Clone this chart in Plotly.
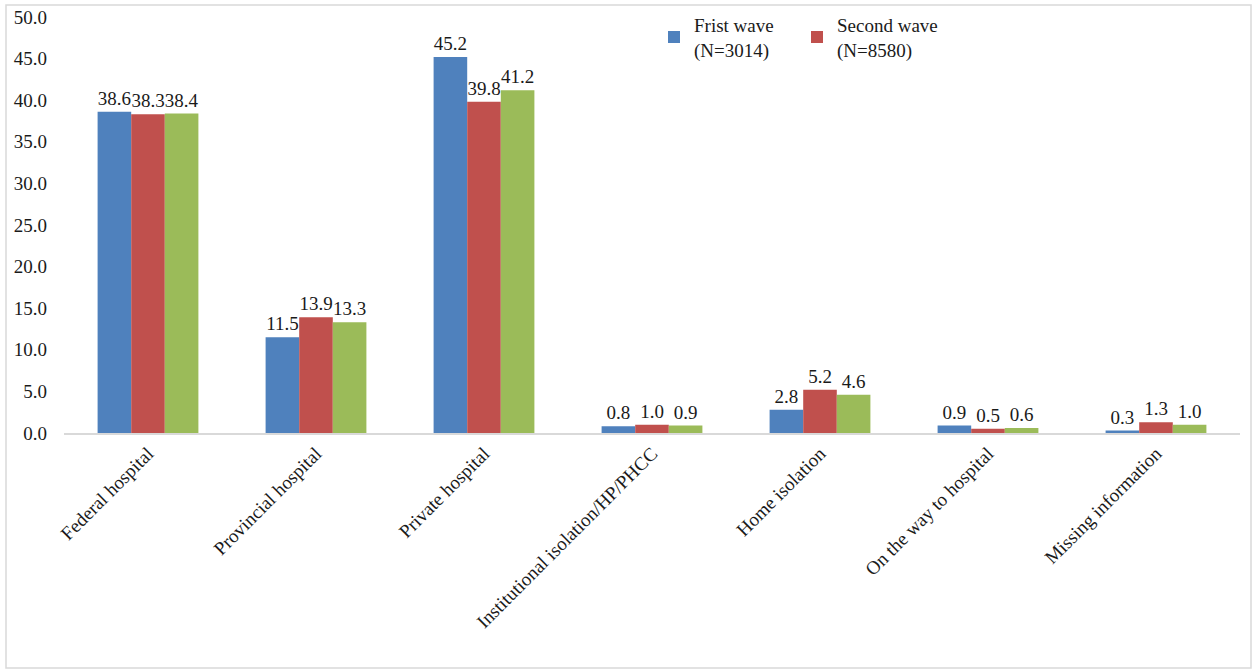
import plotly.graph_objects as go

categories = ["Federal hospital", "Provincial hospital", "Private hospital",
              "Institutional isolation/HP/PHCC", "Home isolation",
              "On the way to hospital", "Missing information"]
first_wave = [38.6, 11.5, 45.2, 0.8, 2.8, 0.9, 0.3]
second_wave = [38.3, 13.9, 39.8, 1.0, 5.2, 0.5, 1.3]
total = [38.4, 13.3, 41.2, 0.9, 4.6, 0.6, 1.0]
series_names = ["Frist wave<br>(N=3014)", "Second wave<br>(N=8580)", "Total"]
y_ticks = [0, 5, 10, 15, 20, 25, 30, 35, 40, 45, 50]

FONT = "Liberation Serif"
TXT = "#1a1a1a"
colors = ["#4F81BD", "#C0504D", "#9BBB59"]

fig = go.Figure()
for name, vals, col, show in zip(series_names, [first_wave, second_wave, total], colors, [True, True, False]):
    fig.add_trace(go.Bar(
        x=categories, y=vals, name=name, marker=dict(color=col, line=dict(width=0)),
        text=[f"{v:.1f}" for v in vals], textposition="outside", cliponaxis=False,
        constraintext="none",
        textfont=dict(family=FONT, size=19, color=TXT), showlegend=show,
    ))

W, H = 1253, 669
L, R, T, B = 64, 13, 17, 236
pw = W - L - R
ph = H - T - B

fig.update_layout(
    width=W, height=H, barmode="group", bargap=0.4, bargroupgap=0,
    margin=dict(l=L, r=R, t=T, b=B, autoexpand=False),
    paper_bgcolor="white", plot_bgcolor="white",
    font=dict(family=FONT, size=19, color=TXT),
    legend=dict(orientation="h", x=(654 - L) / pw, y=1.027, xanchor="left", yanchor="top",
                font=dict(family=FONT, size=19, color=TXT),
                entrywidth=98, entrywidthmode="pixels", itemwidth=30,
                bgcolor="rgba(0,0,0,0)", traceorder="normal"),
    xaxis=dict(tickangle=-45, showline=True, linecolor="#D9D9D9", linewidth=2,
               ticks="", automargin=False, tickfont=dict(family=FONT, size=19, color=TXT)),
    yaxis=dict(range=[0, 50], tickvals=y_ticks, ticktext=[f"{v:.1f}" for v in y_ticks],
               showgrid=False, zeroline=False, showline=False, ticks="",
               ticklabelstandoff=16, automargin=False,
               tickfont=dict(family=FONT, size=19, color=TXT)),
    shapes=[dict(type="rect", xref="paper", yref="paper",
                 x0=(6 - L) / pw, x1=(1251 - L) / pw,
                 y0=-(H - 1 - T - ph) / ph, y1=1 + (T - 5) / ph,
                 line=dict(color="#D9D9D9", width=1.5), fillcolor="rgba(0,0,0,0)", layer="below")],
)

fig.write_html("out.html")
